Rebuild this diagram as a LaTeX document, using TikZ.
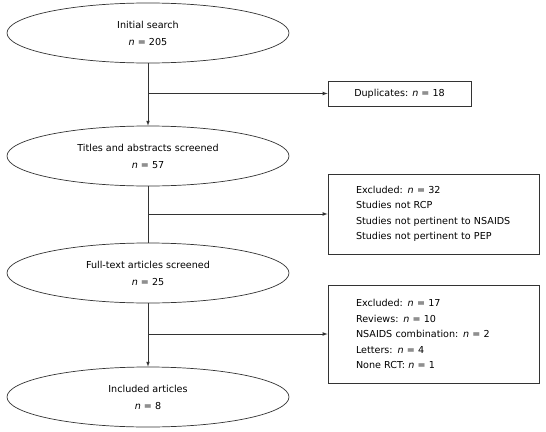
\documentclass[tikz,border=0pt]{standalone}
\usepackage{fontspec}
\setmainfont{DejaVu Sans}
\usetikzlibrary{shapes.geometric}
\tikzstyle{stage}=[ellipse,draw=black!80,line width=0.7pt,minimum width=282pt,minimum height=60pt,inner sep=0pt,align=center,font=\fontsize{9.6}{17}\selectfont]
\tikzstyle{excl}=[rectangle,draw=black!80,line width=0.8pt,inner ysep=0pt,inner xsep=28pt,text width=155pt,align=left,font=\fontsize{9.6}{15.5}\selectfont]
\tikzstyle{dupbox}=[rectangle,draw=black!80,line width=0.8pt,minimum width=143pt,minimum height=25pt,inner sep=0pt,font=\fontsize{9.6}{15.5}\selectfont]

\begin{document}
\begin{tikzpicture}[x=1pt,y=1pt]
    \useasboundingbox (0,0) rectangle (546,-431);
    \node[stage] (s1) at (148,-33)  {Initial search\\ \textit{n} = 205};
    \node[stage] (s2) at (148,-156) {Titles and abstracts screened\\ \textit{n} = 57};
    \node[stage] (s3) at (148,-273) {Full-text articles screened\\ \textit{n} = 25};
    \node[stage] (s4) at (148,-397) {Included articles\\ \textit{n} = 8};

    \node[dupbox] (d1) at (399.5,-93.5) {Duplicates: \textit{n} = 18};
    \node[excl,minimum height=80pt] (e1) at (433.5,-214) {Excluded: \textit{n} = 32\\ Studies not RCP\\ Studies not pertinent to NSAIDS\\ Studies not pertinent to PEP};
    \node[excl,minimum height=98pt] (e2) at (433.5,-334) {Excluded: \textit{n} = 17\\ Reviews: \textit{n} = 10\\ NSAIDS combination: \textit{n} = 2\\ Letters: \textit{n} = 4\\ None RCT: \textit{n} = 1};

    \coordinate (b1) at (148,-93.5);
    \coordinate (b2) at (148,-214);
    \coordinate (b3) at (148,-334);

    \foreach \from/\to in {s1/s2,s3/s4}
    \draw[->,>=latex,black!80,line width=0.7pt] (\from) -- (\to);
    \draw[black!80,line width=0.7pt] (s2) -- (s3);
    \foreach \from/\to in {b1/d1,b2/e1,b3/e2}
    \draw[->,>=latex,black!80,line width=0.7pt] (\from) -- (\to.west);
\end{tikzpicture}
\end{document}
